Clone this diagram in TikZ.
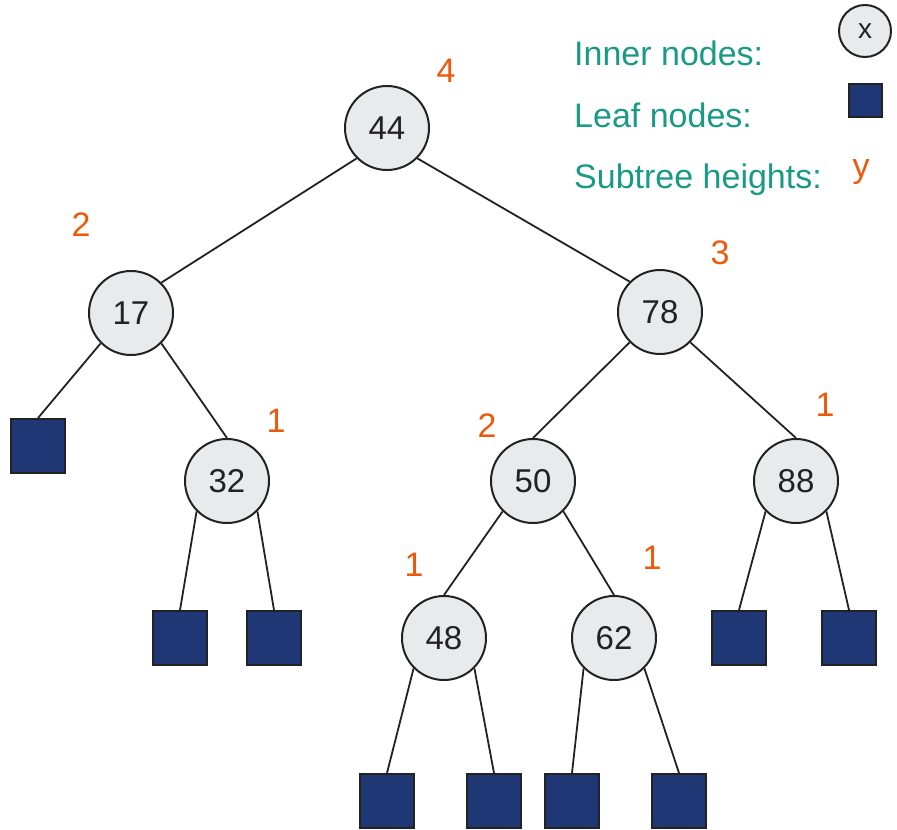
\documentclass[tikz,border=0pt]{standalone}
\usepackage{fontspec}
\setmainfont{Liberation Sans}
\definecolor{innerfill}{HTML}{E8EBEC}
\definecolor{leaffill}{HTML}{1F3775}
\definecolor{heightcol}{HTML}{EB5A0A}
\definecolor{legendcol}{HTML}{1A9985}
\definecolor{inkcol}{HTML}{222222}
\begin{document}
\begin{tikzpicture}[x=1pt,y=-1pt,
  inner/.style={circle, draw=inkcol, line width=2pt, fill=innerfill, minimum size=84pt,
    inner sep=0pt, text=inkcol, font=\fontsize{33}{40}\selectfont},
  leaf/.style={rectangle, draw=inkcol, line width=2pt, fill=leaffill, minimum size=54pt, inner sep=0pt},
  hgt/.style={text=heightcol, font=\fontsize{34}{40}\selectfont, inner sep=0pt},
  legend/.style={text=legendcol, font=\fontsize{34}{40}\selectfont, inner sep=0pt, anchor=base west},
  edge/.style={draw=inkcol, line width=1.8pt}]
\useasboundingbox (0,0) rectangle (897,830);

% inner nodes
\node[inner] (n44) at (387,128) {44};
\node[inner] (n17) at (131,313) {17};
\node[inner] (n78) at (660,312) {78};
\node[inner] (n32) at (227,481) {32};
\node[inner] (n50) at (533,481) {50};
\node[inner] (n88) at (796,481) {88};
\node[inner] (n48) at (444,638) {48};
\node[inner] (n62) at (614,638) {62};

% leaves
\node[leaf] (l17)  at (38,446) {};
\node[leaf] (l32a) at (180,638) {};
\node[leaf] (l32b) at (274,638) {};
\node[leaf] (l88a) at (739,638) {};
\node[leaf] (l88b) at (849,638) {};
\node[leaf] (l48a) at (387,801) {};
\node[leaf] (l48b) at (494,801) {};
\node[leaf] (l62a) at (572,801) {};
\node[leaf] (l62b) at (679,801) {};

% edges
\draw[edge] (n44.south west) -- (n17.north east);
\draw[edge] (n44.south east) -- (n78.north west);
\draw[edge] (n17.south west) -- (l17.north);
\draw[edge] (n17.south east) -- (n32.north);
\draw[edge] (n78.south west) -- (n50.north);
\draw[edge] (n78.south east) -- (n88.north);
\draw[edge] (n32.south west) -- (l32a.north);
\draw[edge] (n32.south east) -- (l32b.north);
\draw[edge] (n50.south west) -- (n48.north);
\draw[edge] (n50.south east) -- (n62.north);
\draw[edge] (n88.south west) -- (l88a.north);
\draw[edge] (n88.south east) -- (l88b.north);
\draw[edge] (n48.south west) -- (l48a.north);
\draw[edge] (n48.south east) -- (l48b.north);
\draw[edge] (n62.south west) -- (l62a.north);
\draw[edge] (n62.south east) -- (l62b.north);

% subtree heights
\node[hgt] (h44) at (446,71) {4};
\node[hgt] (h17) at (81,225) {2};
\node[hgt] (h78) at (720,253) {3};
\node[hgt] (h32) at (276,421) {1};
\node[hgt] (h50) at (487,426) {2};
\node[hgt] (h88) at (825,405) {1};
\node[hgt] (h48) at (414,565) {1};
\node[hgt] (h62) at (652,558) {1};

% legend
\node[legend] (tinner) at (574,65) {Inner nodes:};
\node[legend] (tleaf) at (574,127) {Leaf nodes:};
\node[legend] (theight) at (574,188) {Subtree heights:};
\node[inner, minimum size=52pt, font=\fontsize{28}{32}\selectfont] (kinner) at (865,31) {x};
\node[leaf, minimum size=33pt] (kleaf) at (865,100) {};
\node[hgt, anchor=base] (kheight) at (861,177) {y};
\end{tikzpicture}
\end{document}
